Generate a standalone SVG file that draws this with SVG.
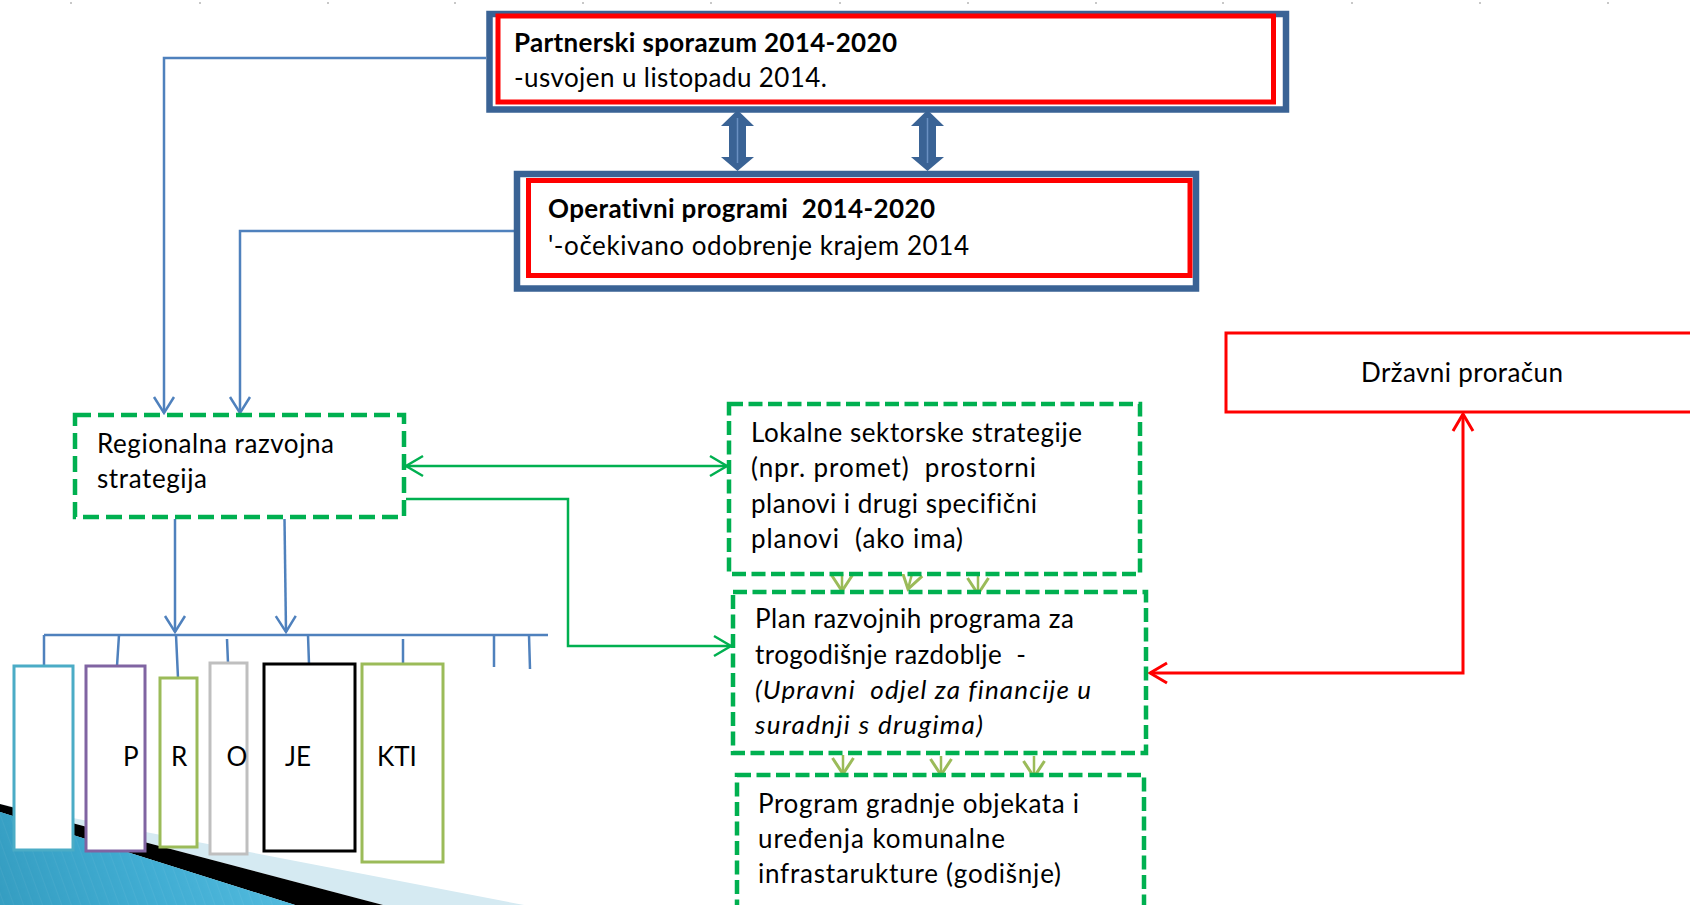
<svg xmlns="http://www.w3.org/2000/svg" width="1690" height="905" viewBox="0 0 1690 905">
<style>
text{font-family:Lato,"Liberation Sans","DejaVu Sans",sans-serif;font-size:26px;fill:#000;font-variant-ligatures:none}
.b{font-weight:bold}
.i{font-style:italic}
.blueFrame{fill:#fff;stroke:#3A6395;stroke-width:6.5}
.redFrame{fill:none;stroke:#FF0000;stroke-width:5}
.dashA{fill:#fff;stroke:#00B050;stroke-width:4.5;stroke-dasharray:16 7}
.dashB{fill:#fff;stroke:#00B050;stroke-width:4.5;stroke-dasharray:14 5.5}
.cb{fill:none;stroke:#4F81BD;stroke-width:2.5}
.cg{fill:none;stroke:#00B050;stroke-width:2.5}
.co{fill:none;stroke:#9BBB59;stroke-width:2.5}
.cr{fill:none;stroke:#FF0000;stroke-width:3}
.bar{fill:#fff;stroke-width:3}
.dot{fill:#C8C8C8}
</style>
<defs>
<marker id="mB" markerUnits="userSpaceOnUse" viewBox="-2 -2 21 24" refX="16" refY="10" markerWidth="21" markerHeight="24" orient="auto-start-reverse"><path d="M0,0 L16,10 L0,20" fill="none" stroke="#4F81BD" stroke-width="2.5"/></marker>
<marker id="mG" markerUnits="userSpaceOnUse" viewBox="-2 -2 21 24" refX="17" refY="10" markerWidth="21" markerHeight="24" orient="auto-start-reverse"><path d="M0,0 L17,10 L0,20" fill="none" stroke="#00B050" stroke-width="2.5"/></marker>
<marker id="mO" markerUnits="userSpaceOnUse" viewBox="-2 -2 21 25" refX="16" refY="10.5" markerWidth="21" markerHeight="25" orient="auto-start-reverse"><path d="M0,0 L16,10.5 L0,21" fill="none" stroke="#9BBB59" stroke-width="3"/></marker>
<marker id="mR" markerUnits="userSpaceOnUse" viewBox="-2 -2 21 24" refX="17" refY="10" markerWidth="21" markerHeight="24" orient="auto-start-reverse"><path d="M0,0 L17,10 L0,20" fill="none" stroke="#FF0000" stroke-width="3"/></marker>
<linearGradient id="gBlue" x1="0" y1="905" x2="300" y2="820" gradientUnits="userSpaceOnUse">
<stop offset="0" stop-color="#11789C"/><stop offset="0.5" stop-color="#2E9FC8"/><stop offset="1" stop-color="#62C6E6"/>
</linearGradient>
<pattern id="stripes" patternUnits="userSpaceOnUse" width="9" height="9" patternTransform="rotate(-20)">
<rect width="9" height="9" fill="url(#gBlue)"/>
<line x1="0" y1="0" x2="0" y2="9" stroke="#8FD3EE" stroke-opacity="0.35" stroke-width="1.5"/>
</pattern>
</defs>

<g id="decoration">
<rect class="dot" x="70" y="2" width="2" height="2"/><rect class="dot" x="199" y="2" width="2" height="2"/><rect class="dot" x="327" y="2" width="2" height="2"/><rect class="dot" x="454" y="2" width="2" height="2"/><rect class="dot" x="582" y="2" width="2" height="2"/><rect class="dot" x="710" y="2" width="2" height="2"/><rect class="dot" x="839" y="2" width="2" height="2"/><rect class="dot" x="967" y="2" width="2" height="2"/><rect class="dot" x="1095" y="2" width="2" height="2"/><rect class="dot" x="1222" y="2" width="2" height="2"/><rect class="dot" x="1351" y="2" width="2" height="2"/><rect class="dot" x="1479" y="2" width="2" height="2"/><rect class="dot" x="1607" y="2" width="2" height="2"/>
<polygon points="0,804 524,905 383,905" fill="#D5EAF2"/>
<polygon points="0,804 383,905 295,905 0,812" fill="#000"/>
<polygon points="0,812 295,905 0,905" fill="url(#gBlue)"/>
<polygon points="0,812 295,905 0,905" fill="url(#stripes)" opacity="0.6"/>
</g>

<g id="connectors">
<path class="cb" d="M486,58 H164 V413" marker-end="url(#mB)"/>
<path class="cb" d="M514,231 H240 V413" marker-end="url(#mB)"/>
<path class="cb" d="M175,519 V632" marker-end="url(#mB)"/>
<path class="cb" d="M284.5,519 L286,632" marker-end="url(#mB)"/>
<path class="cb" d="M44,635 H548" stroke-width="3"/>
<path class="cb" d="M44,635 V666 M119,635 L117,666 M176,635 L178,678 M227,639 L228,663 M308,635 L309,664 M403,639 V665 M494,635 V667 M529,635 L530,669"/>
<path class="cg" d="M406,466 H727" marker-start="url(#mG)" marker-end="url(#mG)"/>
<path class="cg" d="M406,499 H568 V646 H731" marker-end="url(#mG)"/>
<path class="co" d="M842,574 V591" marker-end="url(#mO)"/>
<path class="co" d="M913,570 L908,589" marker-end="url(#mO)"/>
<path class="co" d="M978,576 V594" marker-end="url(#mO)"/>
<path class="co" d="M843,755 V774" marker-end="url(#mO)"/>
<path class="co" d="M941,756 V775" marker-end="url(#mO)"/>
<path class="co" d="M1034,756 V777" marker-end="url(#mO)"/>
<path class="cr" d="M1150,673 H1463 V414" marker-start="url(#mR)" marker-end="url(#mR)"/>
<g id="double-arrows" fill="#3A6395">
<polygon points="737.5,110 754,126 746,126 746,157 754,157 737.5,171 721,157 729,157 729,126 721,126"/>
<polygon points="927.5,110 944,126 936,126 936,157 944,157 927.5,171 911,157 919,157 919,126 911,126"/>
<path d="M737.5,118 V163 M927.5,118 V163" stroke="#6A90C2" stroke-width="1.5" fill="none"/>
</g>
</g>

<g id="partnerski">
<rect class="blueFrame" x="489.5" y="14" width="796.5" height="95.5"/>
<rect class="redFrame" x="498" y="16" width="775.5" height="86"/>
<text class="b" x="514" y="52" textLength="383">Partnerski sporazum 2014-2020</text>
<text x="514" y="87" textLength="313">-usvojen u listopadu 2014.</text>
</g>

<g id="operativni">
<rect class="blueFrame" x="517" y="174" width="679" height="114.5"/>
<rect class="redFrame" x="528.5" y="180.5" width="661.5" height="95"/>
<text class="b" x="548" y="218" textLength="387" xml:space="preserve">Operativni programi  2014-2020</text>
<text x="548" y="255" textLength="421">'-očekivano odobrenje krajem 2014</text>
</g>

<g id="regionalna">
<rect class="dashA" x="75" y="415" width="329" height="102"/>
<text x="97" y="453" textLength="237">Regionalna razvojna</text>
<text x="97" y="488" textLength="110">strategija</text>
</g>

<g id="lokalne">
<rect class="dashB" x="729" y="404" width="411" height="170"/>
<text x="751" y="442" textLength="331">Lokalne sektorske strategije</text>
<text x="751" y="477" textLength="285" xml:space="preserve">(npr. promet)  prostorni</text>
<text x="751" y="513" textLength="286">planovi i drugi specifični</text>
<text x="751" y="548" textLength="212" xml:space="preserve">planovi  (ako ima)</text>
</g>

<g id="plan">
<rect class="dashB" x="733" y="592" width="413" height="161"/>
<text x="755" y="628" textLength="319">Plan razvojnih programa za</text>
<text x="755" y="664" textLength="271" xml:space="preserve">trogodišnje razdoblje  -</text>
<text class="i" x="755" y="699" textLength="336" xml:space="preserve">(Upravni  odjel za financije u</text>
<text class="i" x="755" y="734" textLength="228">suradnji s drugima)</text>
</g>

<g id="program">
<rect class="dashB" x="737" y="775" width="407" height="140"/>
<text x="758" y="813" textLength="321">Program gradnje objekata i</text>
<text x="758" y="848" textLength="247">uređenja komunalne</text>
<text x="758" y="883" textLength="303">infrastarukture (godišnje)</text>
</g>

<g id="drzavni">
<rect x="1226" y="333" width="480" height="79" fill="#fff" stroke="#FF0000" stroke-width="3"/>
<text x="1361" y="382" textLength="202">Državni proračun</text>
</g>

<g id="bar1"><rect class="bar" x="14" y="666" width="59" height="184" stroke="#4BACC6"/></g>
<g id="bar2"><rect class="bar" x="86" y="666" width="59" height="185" stroke="#8064A2"/><text x="123" y="766">P</text></g>
<g id="bar3"><rect class="bar" x="160" y="678" width="37" height="169" stroke="#9BBB59"/><text x="171" y="766">R</text></g>
<g id="bar4"><rect class="bar" x="210" y="663" width="37" height="191" stroke="#BFBFBF"/><text x="226.5" y="766">O</text></g>
<g id="bar5"><rect class="bar" x="264" y="664" width="91" height="187" stroke="#000"/><text x="285" y="766">JE</text></g>
<g id="bar6"><rect class="bar" x="362" y="664" width="81" height="198" stroke="#9BBB59"/><text x="377" y="766">KTI</text></g>
</svg>
